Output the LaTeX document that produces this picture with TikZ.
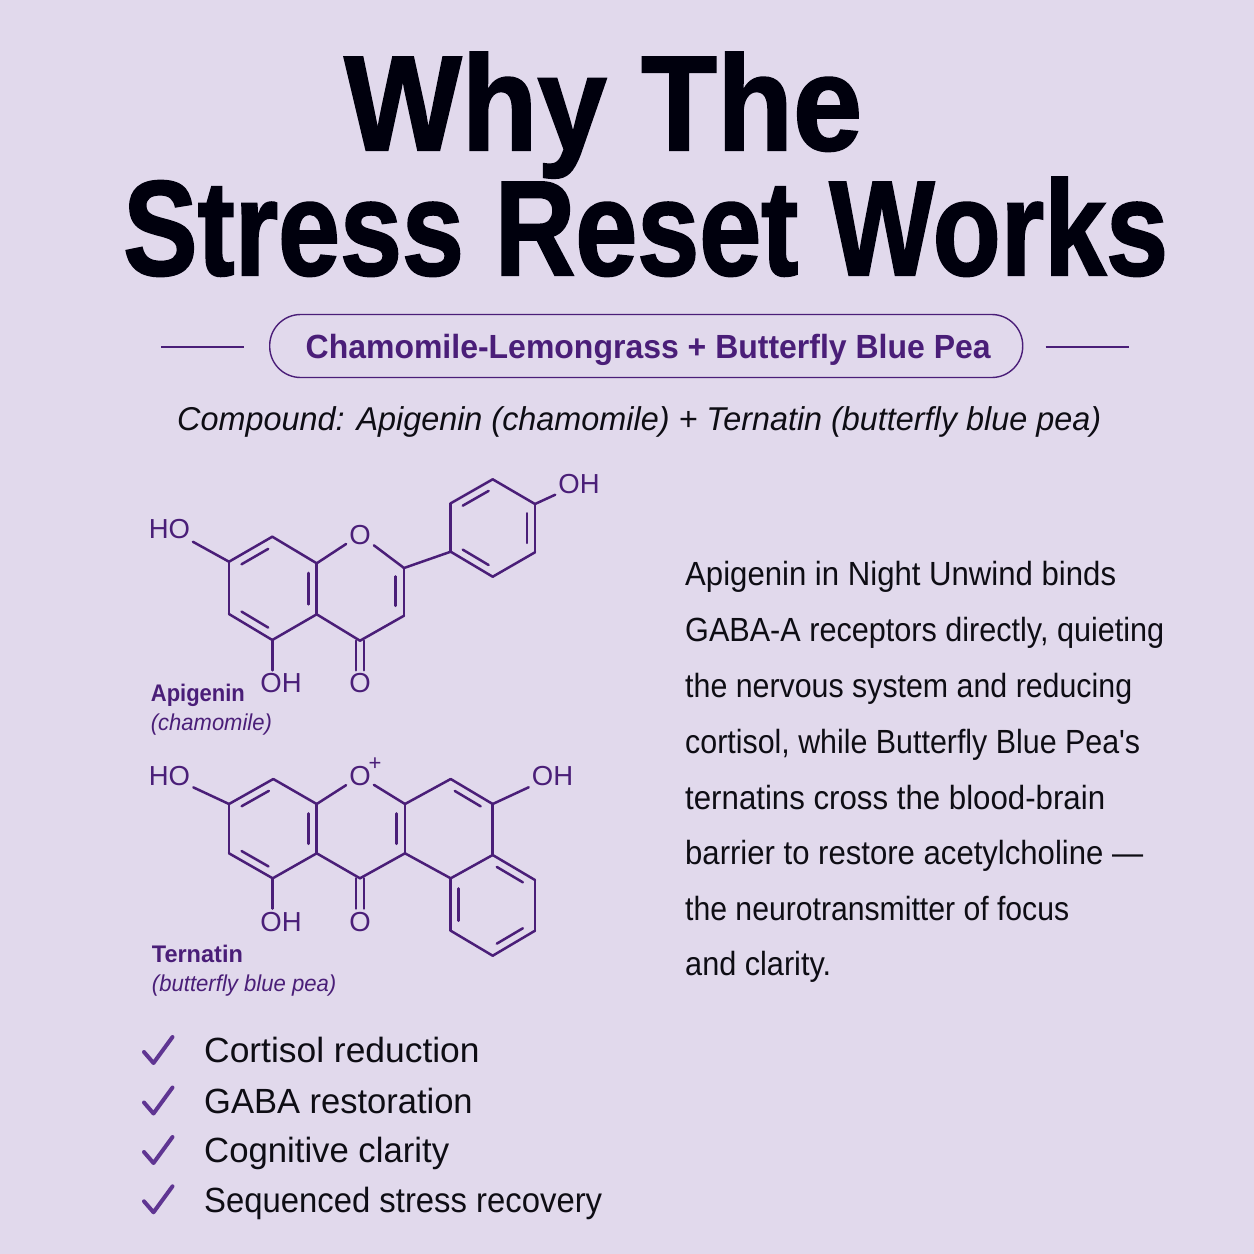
\documentclass[tikz,border=0pt]{standalone}
\usepackage{fontspec}
\usepackage{graphicx}
\usetikzlibrary{calc}
\newfontfamily\lib{Liberation Sans}
\newfontfamily\titlef{Liberation Sans}[BoldFeatures={FakeBold=1.6}]
\newcommand\fs[1]{\fontsize{#1}{#1}\selectfont}
\newcommand\fw[2]{\resizebox{#1pt}{\height}{#2}}
\definecolor{bgc}{HTML}{E1D9EC}
\definecolor{pur}{HTML}{4A1E78}
\definecolor{chk}{HTML}{5F3592}
\definecolor{ink}{HTML}{0E0D14}
\tikzset{
 txt/.style={inner sep=0pt,anchor=base west,text=ink},
 titletxt/.style={txt,text=black!95!blue,font=\titlef\bfseries\fs{135}},
 pilltxt/.style={txt,text=pur,font=\lib\bfseries\fs{33.5}},
 subtxt/.style={txt,font=\lib\itshape\fs{33}},
 bodytxt/.style={txt,font=\lib\fs{33.5}},
 listtxt/.style={txt,font=\lib\fs{35}},
 nametxt/.style={txt,text=pur,font=\lib\bfseries\fs{24}},
 srctxt/.style={txt,text=pur,font=\lib\itshape\fs{23}},
 atom/.style={inner sep=3pt,anchor=base,text=pur,font=\lib\fs{27.5}},
 bond/.style={draw=pur,line width=2.5pt,line cap=round,line join=round},
 rule/.style={draw=pur,line width=1.6pt},
 tick/.style={draw=chk,line width=4pt,line join=round,line cap=round},
}
\newcommand\dbl[3]{\draw[bond] (#1)--(#2); \draw[bond] ($(#1)!.12!(#2)!.19!(#3)$)--($(#2)!.12!(#1)!.19!(#3)$);}
\begin{document}
\begin{tikzpicture}[x=1pt,y=-1pt]
\useasboundingbox (0,0) rectangle (1254,1254);
\fill[bgc] (0,0) rectangle (1254,1254);
% title
\node[titletxt] (t1) at (344,150) {\fw{518}{Why The}};
\node[titletxt] (t2) at (123,275) {\fw{1045}{Stress Reset Works}};
% pill
\coordinate (lla) at (161,346.7); \coordinate (llb) at (244,346.7);
\coordinate (lra) at (1045.6,346.7); \coordinate (lrb) at (1128.5,346.7);
\draw[rule] (lla)--(llb); \draw[rule] (lra)--(lrb);
\node[draw=pur,line width=1.4pt,rounded corners=31pt,minimum width=753pt,minimum height=63pt,inner sep=0pt] (pill) at (646.2,346) {};
\node[pilltxt] (pt) at (305.5,358.5) {\fw{685}{Chamomile-Lemongrass + Butterfly Blue Pea}};
\node[subtxt] (sub) at (177,430) {\fw{924}{Compound: Apigenin (chamomile) + Ternatin (butterfly blue pea)}};
% body
\node[bodytxt] (b1) at (685,585) {\fw{431}{Apigenin in Night Unwind binds}};
\node[bodytxt] (b2) at (685,641.7) {\fw{479}{GABA-A receptors directly, quieting}};
\node[bodytxt] (b3) at (685,697.7) {\fw{447}{the nervous system and reducing}};
\node[bodytxt] (b4) at (685,753) {\fw{455}{cortisol, while Butterfly Blue Pea's}};
\node[bodytxt] (b5) at (685,809) {\fw{420}{ternatins cross the blood-brain}};
\node[bodytxt] (b6) at (685,864.3) {\fw{458}{barrier to restore acetylcholine —}};
\node[bodytxt] (b7) at (685,920.7) {\fw{384}{the neurotransmitter of focus}};
\node[bodytxt] (b8) at (685,975.7) {\fw{146}{and clarity.}};
% list
\node[listtxt] (l1) at (204,1062.7) {\fw{275.5}{Cortisol reduction}};
\node[listtxt] (l2) at (204,1113.3) {\fw{268.5}{GABA restoration}};
\node[listtxt] (l3) at (204,1162.7) {\fw{245}{Cognitive clarity}};
\node[listtxt] (l4) at (204,1212) {\fw{398}{Sequenced stress recovery}};
\foreach \n/\y in {1/0,2/50.5,3/100,4/149.3}{
 \coordinate (ca\n) at (144,1052+\y); \coordinate (cb\n) at (153.5,1063+\y); \coordinate (cc\n) at (172.5,1037+\y);
 \draw[tick] (ca\n)--(cb\n)--(cc\n);
}
% apigenin
\foreach \n/\x/\y in {a1/229/561.7,a2/272.3/536.7,a3/316.7/563.3,a4/316.7/614.3,a5/272.3/640,a6/229/614,
  c2/404/568,c3/404/615.7,c4/360/640.7,p1/450.7/551.7,p2/450.7/503.3,p3/492.7/479.3,p4/535/504,p5/535/552.3,p6/492.7/576.7,
  rA/272.8/588,rB/360/588,rC/492.7/528}
  \coordinate (\n) at (\x,\y);
\node[atom] (ao) at (360,544.3) {O};
\node[atom] (aho) at (169.5,538.3) {HO};
\node[atom] (aoh) at (579,493.3) {OH};
\node[atom] (aoh2) at (281,692.7) {OH};
\node[atom] (aoo) at (360,692.7) {O};
\node[nametxt] (an) at (150.7,701.7) {\fw{94}{Apigenin}};
\node[srctxt] (as) at (150.7,730.7) {\fw{121}{(chamomile)}};
\dbl{a1}{a2}{rA} \dbl{a3}{a4}{rA} \dbl{a5}{a6}{rA} \dbl{c2}{c3}{rB}
\dbl{p2}{p3}{rC} \dbl{p4}{p5}{rC} \dbl{p6}{p1}{rC}
\foreach \u/\v in {a2/a3,a4/a5,a6/a1,a3/ao,ao/c2,c3/c4,c4/a4,c2/p1,p1/p2,p3/p4,p5/p6,a1/aho,p4/aoh}
  \draw[bond] (\u)--(\v);
\draw[bond] (a5)--(a5 |- aoh2.north);
\draw[bond] ([xshift=-4pt]c4)--([xshift=-4pt]aoo.north);
\draw[bond] ([xshift=4pt]c4)--([xshift=4pt]aoo.north);
% ternatin
\foreach \n/\x/\y in {t1/229/804,t2/273.3/779,t3/316.7/804,t4/316.7/853.3,t5/272.7/878.3,t6/229/853.3,
  r1/405/804,r2/405/853.3,co/360/878.3,s1/450.7/779,s2/492.7/804,s3/492.7/855,
  u1/450.7/878.3,u2/450.7/930.7,u3/492.7/955.7,u4/535/930.7,u5/535/880,
  qA/272.8/828.5,qB/360.5/828.5,qC/450.7/829,qD/492.7/905}
  \coordinate (\n) at (\x,\y);
\node[atom] (to) at (360,785.7) {O};
\node[atom,font=\lib\fs{22}] (tplus) at (375,770) {+};
\node[atom] (tho) at (169.5,785.7) {HO};
\node[atom] (toh) at (552.5,785.7) {OH};
\node[atom] (toh2) at (281,931) {OH};
\node[atom] (too) at (360,931) {O};
\node[nametxt] (tn) at (151.7,962.3) {\fw{91}{Ternatin}};
\node[srctxt] (ts) at (151.7,991.7) {\fw{184.5}{(butterfly blue pea)}};
\dbl{t1}{t2}{qA} \dbl{t3}{t4}{qA} \dbl{t5}{t6}{qA} \dbl{r1}{r2}{qB}
\dbl{s1}{s2}{qC} \dbl{u1}{u2}{qD} \dbl{u3}{u4}{qD} \dbl{u5}{s3}{qD}
\foreach \u/\v in {t2/t3,t4/t5,t6/t1,t3/to,to/r1,r2/co,co/t4,r1/s1,s2/s3,s3/u1,r2/u1,u2/u3,u4/u5,t1/tho,s2/toh}
  \draw[bond] (\u)--(\v);
\draw[bond] (t5)--(t5 |- toh2.north);
\draw[bond] ([xshift=-4pt]co)--([xshift=-4pt]too.north);
\draw[bond] ([xshift=4pt]co)--([xshift=4pt]too.north);
\end{tikzpicture}
\end{document}
